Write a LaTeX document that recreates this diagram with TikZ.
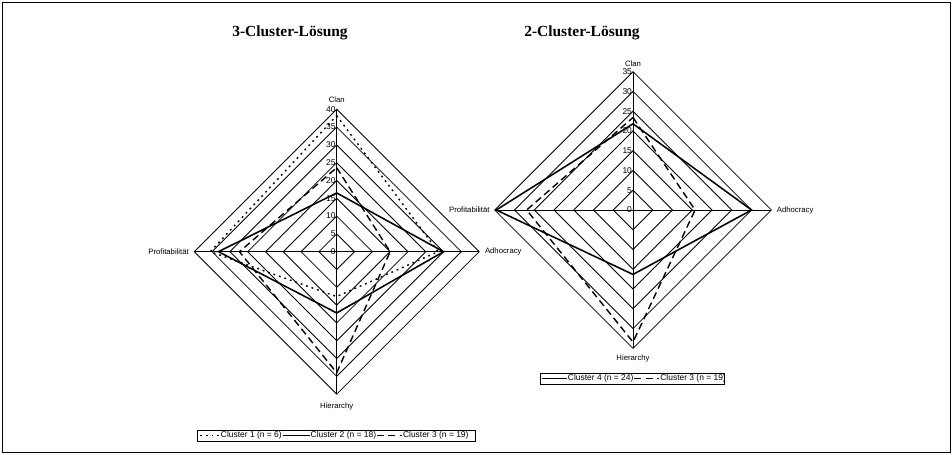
\documentclass[tikz,border=0pt]{standalone}
\usepackage{fontspec}
\setmainfont{Liberation Serif}
\newfontfamily\arialfont{Liberation Sans}
\usetikzlibrary{positioning}

\tikzset{
    ring/.style={line width=0.6pt},
    axis label/.style={font=\arialfont\fontsize{5.5}{6}\selectfont, inner sep=0pt},
    tick label/.style={font=\arialfont\fontsize{6}{7}\selectfont, anchor=east, inner sep=0.6pt},
    legend text/.style={font=\arialfont\fontsize{6}{7}\selectfont, inner sep=0.5pt},
    legend frame/.style={line width=0.6pt},
    chart title/.style={font=\bfseries\fontsize{11}{13}\selectfont, inner sep=0pt},
    cluster dot/.style={line width=1pt, dash pattern=on 1.3pt off 2.8pt},
    cluster line/.style={line width=1.1pt},
    cluster dash/.style={line width=1pt, dash pattern=on 5pt off 3pt}
}

\begin{document}
\begin{tikzpicture}[x=0.025cm, y=-0.025cm]

    \useasboundingbox (0,0) rectangle (952,454);
    \draw[line width=0.7pt] (2,2) rectangle (950,452);

    % headings
    \node[chart title] (title-3) at (290,33) {3-Cluster-Lösung};
    \node[chart title] (title-2) at (582,33) {2-Cluster-Lösung};

    % 3-cluster chart
    \begin{scope}[shift={(336.7,251.7)}, x=0.089cm, y=0.089cm]
        % rings
        \foreach \r in {5,10,...,40}
            \draw[ring] (0,\r) -- (\r,0) -- (0,-\r) -- (-\r,0) -- cycle;
        \draw[ring] (0,-40) -- (0,40);
        \draw[ring] (-40,0) -- (40,0);

        % scale
        \foreach \r in {0,5,...,40}
            \node[tick label] (left-tick-\r) at (0,\r) {\r};

        % axis names
        \node[axis label, above=0.15cm] (left-clan) at (0,40) {Clan};
        \node[axis label, right=0.14cm] (left-adho) at (40,0) {Adhocracy};
        \node[axis label, below=0.2cm] (left-hier) at (0,-40) {Hierarchy};
        \node[axis label, left=0.13cm] (left-prof) at (-40,0) {Profitabilität};

        % clusters
        \draw[cluster dot] (0,38.2) -- (28.5,0) -- (0,-12.6) -- (-35.5,0) -- cycle;
        \draw[cluster line] (0,16.5) -- (30,0) -- (0,-17.2) -- (-33.2,0) -- cycle;
        \draw[cluster dash] (0,23.6) -- (15,0) -- (0,-34) -- (-27.3,0) -- cycle;
    \end{scope}

    % 2-cluster chart
    \begin{scope}[shift={(633,210)}, x=0.0988cm, y=0.0988cm]
        % rings
        \foreach \r in {5,10,...,35}
            \draw[ring] (0,\r) -- (\r,0) -- (0,-\r) -- (-\r,0) -- cycle;
        \draw[ring] (0,-35) -- (0,35);
        \draw[ring] (-35,0) -- (35,0);

        % scale
        \foreach \r in {0,5,...,35}
            \node[tick label] (right-tick-\r) at (0,\r) {\r};

        % axis names
        \node[axis label, above=0.13cm] (right-clan) at (0,35) {Clan};
        \node[axis label, right=0.13cm] (right-adho) at (35,0) {Adhocracy};
        \node[axis label, below=0.16cm] (right-hier) at (0,-35) {Hierarchy};
        \node[axis label, left=0.12cm] (right-prof) at (-35,0) {Profitabilität};

        % clusters
        \draw[cluster line] (0,21.8) -- (30,0) -- (0,-16.3) -- (-34.6,0) -- cycle;
        \draw[cluster dash] (0,23.4) -- (15.7,0) -- (0,-33.4) -- (-26.9,0) -- cycle;
    \end{scope}

    % legend 3-cluster
    \draw[legend frame] (197,430) rectangle (475,441);
    \coordinate (lg1-a) at (200,435.5);
    \coordinate (lg1-b) at (220,435.5);
    \draw[cluster dot] (lg1-a) -- (lg1-b);
    \node[legend text, right=0pt of lg1-b] (lg1-t) {Cluster 1 (n = 6)};
    \draw[cluster line] (lg1-t.east) -- ++(27,0) coordinate (lg2-b);
    \node[legend text, right=0pt of lg2-b] (lg2-t) {Cluster 2 (n = 18)};
    \draw[cluster dash] (lg2-t.east) -- ++(25,0) coordinate (lg3-b);
    \node[legend text, right=0pt of lg3-b] (lg3-t) {Cluster 3 (n = 19)};

    % legend 2-cluster
    \draw[legend frame] (540,373) rectangle (724,384);
    \coordinate (lg4-a) at (542,378.5);
    \coordinate (lg4-b) at (567,378.5);
    \draw[cluster line] (lg4-a) -- (lg4-b);
    \node[legend text, right=0pt of lg4-b] (lg4-t) {Cluster 4 (n = 24)};
    \draw[cluster dash] (lg4-t.east) -- ++(25,0) coordinate (lg5-b);
    \node[legend text, right=0pt of lg5-b] (lg5-t) {Cluster 3 (n = 19)};

\end{tikzpicture}
\end{document}
